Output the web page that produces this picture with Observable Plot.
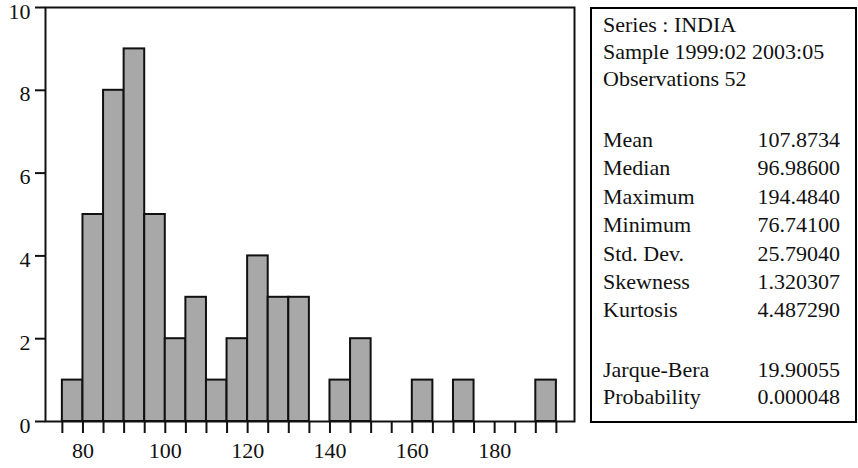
<!DOCTYPE html>
<html>
<head>
<meta charset="utf-8">
<script src="https://cdn.jsdelivr.net/npm/d3@7"></script>
<script src="https://cdn.jsdelivr.net/npm/@observablehq/plot@0.6"></script>
<style>
  html, body { margin: 0; padding: 0; background: #fff; }
  #wrap { position: relative; width: 858px; height: 468px; overflow: hidden; font-family: "Liberation Serif", "DejaVu Serif", serif; }
  #chart { position: absolute; left: 0; top: 0; }
  #stats { position: absolute; left: 590px; top: 7px; width: 263px; height: 412px; border: 2px solid #000; box-sizing: content-box; font-size: 22px; color: #111; }
  #stats .row { position: absolute; left: 11px; right: 15px; height: 28px; line-height: 28px; white-space: nowrap; }
  #stats .row .v { position: absolute; right: 0; top: 0; }
</style>
</head>
<body>
<div id="wrap">
  <div id="chart"></div>
  <div id="stats"></div>
</div>
<script>
// Histogram bins (lower edges, width 5) and counts
const binLower = [75, 80, 85, 90, 95, 100, 105, 110, 115, 120, 125, 130, 135, 140, 145, 150, 155, 160, 165, 170, 175, 180, 185, 190];
const binWidth = 5;
const counts   = [1, 5, 8, 9, 5, 2, 3, 1, 2, 4, 3, 3, 0, 1, 2, 0, 0, 1, 0, 1, 0, 0, 0, 1];
const xTickLabels = [80, 100, 120, 140, 160, 180];
const yTicks = [0, 2, 4, 6, 8, 10];

// Statistics panel
const headerLines = ["Series : INDIA", "Sample 1999:02 2003:05", "Observations 52"];
const statNames  = ["Mean", "Median", "Maximum", "Minimum", "Std. Dev.", "Skewness", "Kurtosis"];
const statValues = ["107.8734", "96.98600", "194.4840", "76.74100", "25.79040", "1.320307", "4.487290"];
const testNames  = ["Jarque-Bera", "Probability"];
const testValues = ["19.90055", "0.000048"];

const bins = binLower.map((lo, i) => ({x1: lo, x2: lo + binWidth, count: counts[i]})).filter(d => d.count > 0);
const edges = binLower.concat([binLower[binLower.length - 1] + binWidth]);

const plot = Plot.plot({
  width: 585,
  height: 468,
  marginLeft: 45,
  marginRight: 11,
  marginTop: 7,
  marginBottom: 47,
  style: {fontFamily: "Liberation Serif, serif", fontSize: "22px", color: "#111", background: "transparent"},
  x: {domain: [70.9, 199.4]},
  y: {domain: [0, 10]},
  marks: [
    Plot.rectY(bins, {x1: "x1", x2: "x2", y: "count", fill: "#a8a8a8", stroke: "#111", strokeWidth: 2}),
    Plot.axisX({ticks: edges, tickFormat: d => xTickLabels.includes(d) ? String(d) : "", tickSize: 12, tickPadding: 9, strokeWidth: 2, label: null}),
    Plot.axisY({ticks: yTicks, tickFormat: () => "", tickSize: 10, strokeWidth: 2, label: null}),
    Plot.axisY({ticks: yTicks, tickFormat: d => String(d), tickSize: 0, tickPadding: 15, dy: 4, label: null}),
    Plot.frame({stroke: "#111", strokeWidth: 2})
  ]
});
document.getElementById("chart").appendChild(plot);

const stats = document.getElementById("stats");
function addRow(top, name, value) {
  const r = document.createElement("div");
  r.className = "row";
  r.style.top = top + "px";
  r.textContent = name;
  if (value !== undefined) {
    const v = document.createElement("span");
    v.className = "v";
    v.textContent = value;
    r.appendChild(v);
  }
  stats.appendChild(r);
}
headerLines.forEach((t, i) => addRow(2 + i * 27, t));
statNames.forEach((t, i) => addRow(117 + i * 28.4, t, statValues[i]));
testNames.forEach((t, i) => addRow(347 + i * 27, t, testValues[i]));
</script>
</body>
</html>
